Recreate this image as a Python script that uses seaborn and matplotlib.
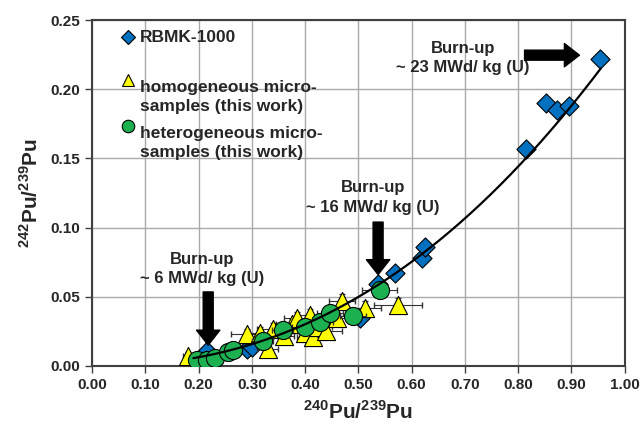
import numpy as np
import pandas as pd
import matplotlib
matplotlib.use("Agg")
import matplotlib.pyplot as plt
import seaborn as sns

# RBMK-1000 reference values
rbmk_x = [0.216, 0.290, 0.300, 0.503, 0.537, 0.569, 0.619, 0.625, 0.814, 0.852, 0.872, 0.895, 0.953]
rbmk_y = [0.011, 0.012, 0.014, 0.035, 0.059, 0.067, 0.078, 0.086, 0.157, 0.190, 0.185, 0.188, 0.222]

# homogeneous micro-samples
homo_x = [0.180, 0.290, 0.315, 0.330, 0.340, 0.360, 0.375, 0.385, 0.400, 0.410, 0.415, 0.425, 0.440, 0.460, 0.469, 0.512, 0.575]
homo_y = [0.007, 0.023, 0.024, 0.012, 0.027, 0.022, 0.030, 0.035, 0.024, 0.037, 0.021, 0.028, 0.025, 0.035, 0.047, 0.042, 0.044]
homo_xerr = [0.010, 0.030, 0.020, 0.020, 0.030, 0.020, 0.030, 0.025, 0.030, 0.025, 0.030, 0.025, 0.030, 0.030, 0.025, 0.030, 0.045]
homo_yerr = [0.003, 0.004, 0.004, 0.003, 0.004, 0.004, 0.004, 0.004, 0.004, 0.004, 0.004, 0.004, 0.004, 0.004, 0.005, 0.005, 0.005]

# heterogeneous micro-samples
hetero_x = [0.197, 0.215, 0.230, 0.255, 0.265, 0.320, 0.358, 0.400, 0.428, 0.447, 0.490, 0.540]
hetero_y = [0.004, 0.004, 0.006, 0.010, 0.0115, 0.018, 0.026, 0.028, 0.032, 0.038, 0.036, 0.055]
hetero_xerr = [0.010, 0.010, 0.012, 0.015, 0.015, 0.020, 0.020, 0.025, 0.025, 0.025, 0.025, 0.033]
hetero_yerr = [0.002, 0.002, 0.002, 0.003, 0.003, 0.003, 0.003, 0.004, 0.004, 0.004, 0.004, 0.004]

# burn-up annotations: text position, arrow tail, arrow head
burnup_labels = ["Burn-up\n~ 6 MWd/ kg (U)", "Burn-up\n~ 16 MWd/ kg (U)", "Burn-up\n~ 23 MWd/ kg (U)"]
burnup_text_xy = [(0.206, 0.070), (0.527, 0.1218), (0.696, 0.2229)]
burnup_tail = [(0.218, 0.0535), (0.537, 0.104), (0.812, 0.2247)]
burnup_head = [(0.218, 0.015), (0.537, 0.066), (0.915, 0.2247)]

sns.set_style("whitegrid")
plt.rcParams["font.family"] = ["Liberation Sans", "DejaVu Sans"]
plt.rcParams["font.weight"] = "bold"
plt.rcParams["mathtext.fontset"] = "custom"
plt.rcParams["mathtext.rm"] = "Liberation Sans:bold"
plt.rcParams["mathtext.bf"] = "Liberation Sans:bold"

blue = "#0070C0"
yellow = "#FFFF00"
green = "#1DB050"

fig = plt.figure(figsize=(6.44, 4.29), dpi=100)
ax = fig.add_axes([0.143, 0.147, 0.827, 0.806])

rbmk = pd.DataFrame({"x": rbmk_x, "y": rbmk_y})
homo = pd.DataFrame({"x": homo_x, "y": homo_y, "xerr": homo_xerr, "yerr": homo_yerr})
hetero = pd.DataFrame({"x": hetero_x, "y": hetero_y, "xerr": hetero_xerr, "yerr": hetero_yerr})

sns.scatterplot(data=rbmk, x="x", y="y", marker="D", s=95, color=blue,
                edgecolor="black", linewidth=0.8, ax=ax, zorder=3)

ax.errorbar(homo["x"], homo["y"], xerr=homo["xerr"], yerr=homo["yerr"], fmt="none",
            ecolor="#333333", elinewidth=0.8, capsize=2, zorder=3)
sns.scatterplot(data=homo, x="x", y="y", marker="^", s=170, color=yellow,
                edgecolor="black", linewidth=0.8, ax=ax, zorder=4)

ax.errorbar(hetero["x"], hetero["y"], xerr=hetero["xerr"], yerr=hetero["yerr"], fmt="none",
            ecolor="#333333", elinewidth=0.8, capsize=2, zorder=4)
sns.scatterplot(data=hetero, x="x", y="y", marker="o", s=170, color=green,
                edgecolor="black", linewidth=0.8, ax=ax, zorder=5)

# power-law fit through the RBMK points
k = np.polyfit(np.log(rbmk_x), np.log(rbmk_y), 1)
xf = np.linspace(0.19, 0.955, 200)
ax.plot(xf, np.exp(k[1]) * xf ** k[0], color="black", lw=1.6, zorder=6)

for lab, txy, tail, head in zip(burnup_labels, burnup_text_xy, burnup_tail, burnup_head):
    ax.text(txy[0], txy[1], lab, ha="center", va="center", fontsize=12,
            fontweight="bold", linespacing=1.35, zorder=7)
    ax.annotate("", xy=head, xytext=tail,
                arrowprops=dict(arrowstyle="simple,head_length=0.9,head_width=1.4,tail_width=0.6",
                                fc="black", ec="black", mutation_scale=12,
                                shrinkA=0, shrinkB=0), zorder=7)

# legend drawn by hand so markers sit on the first text line
leg_marker = ["D", "^", "o"]
leg_color = [blue, yellow, green]
leg_text = ["RBMK-1000", "homogeneous micro-\nsamples (this work)", "heterogeneous micro-\nsamples (this work)"]
leg_y = [0.951, 0.827, 0.694]
for m, c, t, yy in zip(leg_marker, leg_color, leg_text, leg_y):
    ax.plot([0.068], [yy], marker=m, color=c, mec="black", mew=0.8,
            ms=7 if m == "D" else 9, transform=ax.transAxes, ls="none", zorder=8)
    ax.text(0.090, yy, t, transform=ax.transAxes, fontsize=12.5, fontweight="bold",
            va="top" if "\n" in t else "center", linespacing=1.3, zorder=8)

ax.set_xlim(0, 1.0)
ax.set_ylim(0, 0.25)
ax.set_xticks(np.arange(0, 1.01, 0.1))
ax.set_yticks(np.arange(0, 0.251, 0.05))
ax.xaxis.set_major_formatter(matplotlib.ticker.FormatStrFormatter("%.2f"))
ax.yaxis.set_major_formatter(matplotlib.ticker.FormatStrFormatter("%.2f"))
ax.tick_params(labelsize=11, length=5, width=1, color="#404040", direction="out",
               bottom=True, left=True)
ax.grid(True, color="#AAAAAA", lw=1)
for s in ax.spines.values():
    s.set_color("#404040")
    s.set_linewidth(1.5)

ax.set_xlabel(r"$^{240}$Pu/$^{239}$Pu", fontsize=15, fontweight="bold", labelpad=6)
ax.set_ylabel(r"$^{242}$Pu/$^{239}$Pu", fontsize=15, fontweight="bold", labelpad=6)

fig.savefig("out.png", dpi=100)
